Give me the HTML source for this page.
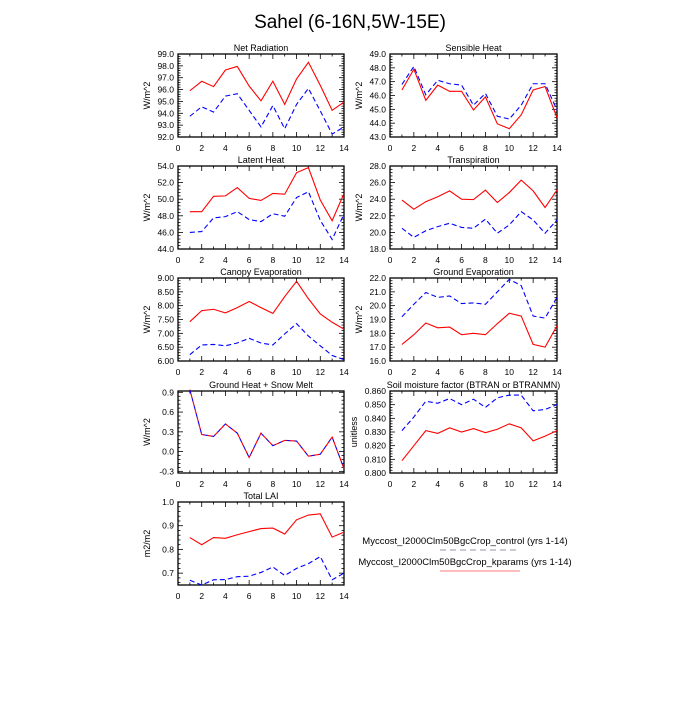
<!DOCTYPE html>
<html><head><meta charset="utf-8"><style>
body{margin:0;background:#fff;width:700px;height:700px;overflow:hidden}
svg{font-family:"Liberation Sans",sans-serif}
</style></head><body>
<svg id="s" width="700" height="700" xmlns="http://www.w3.org/2000/svg">
<text x="350" y="28" font-size="19" text-anchor="middle">Sahel (6-16N,5W-15E)</text>
<text x="465" y="544" font-size="9.5" text-anchor="middle">Myccost_I2000Clm50BgcCrop_control (yrs 1-14)</text>
<line x1="440" y1="550" x2="520" y2="550" stroke="#aab" stroke-width="1.2" stroke-dasharray="6,4"/>
<text x="465" y="565" font-size="9.5" text-anchor="middle">Myccost_I2000Clm50BgcCrop_kparams (yrs 1-14)</text>
<line x1="440" y1="571" x2="520" y2="571" stroke="#f99" stroke-width="1.2"/>
</svg>
<script>
var P=[
{t:"Net Radiation",x0:178,x1:344,y0:54,y1:137,ymin:92,ymax:99,step:1,dec:1,lab:"W/m^2",
r:[95.9,96.7,96.25,97.65,97.95,96.3,95.05,96.7,94.75,96.9,98.3,96.35,94.25,94.95],
b:[93.75,94.55,94.1,95.45,95.65,94.25,92.85,94.65,92.7,94.75,96.1,94.2,92.25,92.85]},
{t:"Sensible Heat",x0:390,x1:557,y0:54,y1:137,ymin:43,ymax:49,step:1,dec:1,lab:"W/m^2",
r:[46.4,47.9,45.65,46.75,46.3,46.3,44.95,45.9,43.95,43.6,44.6,46.4,46.65,44.4],
b:[46.8,48.1,46.05,47.1,46.85,46.75,45.3,46.15,44.5,44.3,45.3,46.85,46.85,44.95]},
{t:"Latent Heat",x0:178,x1:344,y0:166,y1:249,ymin:44,ymax:54,step:2,dec:1,lab:"W/m^2",
r:[48.5,48.5,50.35,50.4,51.4,50.1,49.85,50.7,50.6,53.2,53.8,49.9,47.4,50.7],
b:[46.0,46.1,47.75,47.9,48.5,47.55,47.3,48.25,47.95,50.2,50.9,47.45,45.15,48.2]},
{t:"Transpiration",x0:390,x1:557,y0:166,y1:249,ymin:18,ymax:28,step:2,dec:1,lab:"W/m^2",
r:[23.9,22.8,23.7,24.3,25.0,24.0,23.95,25.1,23.6,24.8,26.3,25.0,23.0,25.1],
b:[20.5,19.4,20.2,20.7,21.1,20.6,20.5,21.6,19.9,20.9,22.5,21.5,19.9,21.5]},
{t:"Canopy Evaporation",x0:178,x1:344,y0:278,y1:361,ymin:6,ymax:9,step:0.5,dec:2,lab:"W/m^2",
r:[7.42,7.82,7.87,7.74,7.93,8.15,7.93,7.72,8.33,8.88,8.25,7.7,7.4,7.15],
b:[6.23,6.58,6.6,6.55,6.65,6.82,6.65,6.58,6.98,7.35,6.9,6.55,6.2,6.05]},
{t:"Ground Evaporation",x0:390,x1:557,y0:278,y1:361,ymin:16,ymax:22,step:1,dec:1,lab:"W/m^2",
r:[17.2,17.9,18.75,18.4,18.45,17.9,18.0,17.9,18.7,19.45,19.25,17.2,17.0,18.55],
b:[19.2,20.1,20.95,20.6,20.7,20.15,20.2,20.1,21.0,21.9,21.45,19.25,19.1,20.6]},
{t:"Ground Heat + Snow Melt",x0:178,x1:344,y0:391,y1:473,ymin:-0.325,ymax:0.92,step:0.3,first:-0.3,dec:1,lab:"W/m^2",
r:[0.94,0.26,0.23,0.42,0.28,-0.09,0.28,0.09,0.17,0.16,-0.07,-0.04,0.22,-0.26],
b:[0.94,0.26,0.23,0.42,0.28,-0.09,0.28,0.09,0.17,0.16,-0.07,-0.04,0.22,-0.26]},
{t:"Soil moisture factor (BTRAN or BTRANMN)",x0:390,x1:557,y0:391,y1:473,ymin:0.8,ymax:0.86,step:0.01,dec:3,lab:"unitless",
r:[0.809,0.82,0.831,0.829,0.833,0.830,0.8325,0.8295,0.832,0.836,0.833,0.8235,0.827,0.831],
b:[0.831,0.841,0.8525,0.851,0.8545,0.850,0.854,0.848,0.855,0.857,0.857,0.8455,0.8465,0.850]},
{t:"Total LAI",x0:178,x1:344,y0:502,y1:585,ymin:0.65,ymax:1.0,step:0.1,first:0.7,dec:1,lab:"m2/m2",
r:[0.85,0.82,0.85,0.847,0.862,0.875,0.888,0.89,0.865,0.925,0.945,0.95,0.852,0.873],
b:[0.67,0.65,0.672,0.673,0.685,0.687,0.703,0.726,0.69,0.72,0.74,0.77,0.672,0.7]}
];
var h='';
P.forEach(function(p){
 var X=function(v){return p.x0+(p.x1-p.x0)*v/14};
 var Y=function(v){return p.y1-(p.y1-p.y0)*(v-p.ymin)/(p.ymax-p.ymin)};
 h+='<rect x="'+p.x0+'" y="'+p.y0+'" width="'+(p.x1-p.x0)+'" height="'+(p.y1-p.y0)+'" fill="none" stroke="#000" stroke-width="1.3"/>';
 h+='<text x="'+((p.x0+p.x1)/2)+'" y="'+(p.y0-3)+'" font-size="9" text-anchor="middle">'+p.t+'</text>';
 for(var i=0;i<=14;i++){var x=X(i),L=i%2?2.5:5;
  h+='<line x1="'+x+'" y1="'+p.y1+'" x2="'+x+'" y2="'+(p.y1-L)+'" stroke="#000" stroke-width="0.8"/>';
  h+='<line x1="'+x+'" y1="'+p.y0+'" x2="'+x+'" y2="'+(p.y0+L)+'" stroke="#000" stroke-width="0.8"/>';
  if(i%2==0)h+='<text x="'+x+'" y="'+(p.y1+14)+'" font-size="8.5" text-anchor="middle">'+i+'</text>';}
 var f=p.first!==undefined?p.first:p.ymin, ms=p.step/5;
 for(var v=f-p.step;v<=p.ymax+1e-9;v+=ms){if(v<p.ymin-1e-9)continue;var y=Y(v);
  var k=Math.round((v-f)/ms),maj=(k%5==0);var L=maj?5:2.5;
  h+='<line x1="'+p.x0+'" y1="'+y+'" x2="'+(p.x0+L)+'" y2="'+y+'" stroke="#000" stroke-width="0.8"/>';
  h+='<line x1="'+p.x1+'" y1="'+y+'" x2="'+(p.x1-L)+'" y2="'+y+'" stroke="#000" stroke-width="0.8"/>';
  if(maj){var s=v.toFixed(p.dec);if(parseFloat(s)==0)s=(0).toFixed(p.dec);
   h+='<text x="'+(p.x0-4)+'" y="'+(y+3)+'" font-size="8.5" text-anchor="end">'+s+'</text>';}}
 var lx=p.x0-(p.dec==3?33:28),ly=(p.y0+p.y1)/2;
 h+='<text x="'+lx+'" y="'+ly+'" font-size="9" text-anchor="middle" transform="rotate(-90 '+lx+' '+ly+')">'+p.lab+'</text>';
 var pb=p.b.map(function(v,i){return X(i+1)+','+Y(v)}).join(' ');
 var pr=p.r.map(function(v,i){return X(i+1)+','+Y(v)}).join(' ');
 h+='<polyline points="'+pb+'" fill="none" stroke="#00f" stroke-width="1.1" stroke-dasharray="5,3"/>';
 h+='<polyline points="'+pr+'" fill="none" stroke="#f00" stroke-width="1.1"'+(p.t.indexOf("Ground Heat")==0?' stroke-dasharray="5,3" stroke-dashoffset="4"':'')+'/>';
});
document.getElementById('s').insertAdjacentHTML('beforeend',h);
</script>
</body></html>
